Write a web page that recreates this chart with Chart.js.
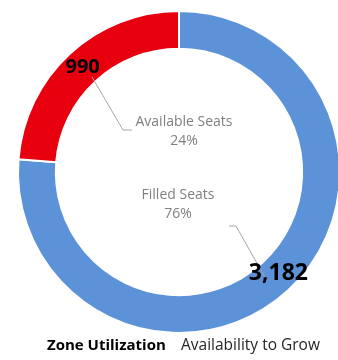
<!DOCTYPE html>
<html>
<head>
<meta charset="utf-8">
<script src="https://cdn.jsdelivr.net/npm/chart.js@4/dist/chart.umd.min.js"></script>
<style>
  html, body { margin: 0; padding: 0; background: #fff; overflow: hidden; }
  #wrap { position: relative; width: 341px; height: 360px; }
</style>
</head>
<body>
<div id="wrap"><canvas id="zone-chart"></canvas></div>
<script>
// dados do gráfico
const categorias = ['Filled Seats', 'Available Seats'];
const assentos = [3182, 990];
const cores = ['#5b92d8', '#e8000f'];
const titulo = 'Zone Utilization';
const subtitulo = 'Availability to Grow';

const FONT = '"Open Sans", Lato, sans-serif';

// deslocamentos dos rótulos de categoria em relação ao centro do anel
const labelOffsets = [
  { dx: -1, dy: 23, valSize: 23, vdx: 3, vdy: -3, line: [[51, 31], [58, 31], [89, 86]] },   // Filled
  { dx: 5, dy: -50, valSize: 20, vdx: 0, vdy: 0, line: [[-52, 8], [-61, 8], [-92, -45]] }   // Available
];

const labelsPlugin = {
  id: 'donutLabels',
  afterDatasetsDraw(chart) {
    const ctx = chart.ctx;
    const meta = chart.getDatasetMeta(0);
    const total = assentos.reduce((a, b) => a + b, 0);
    const cx = meta.data[0].x;
    const cy = meta.data[0].y;

    ctx.save();
    meta.data.forEach((arc, i) => {
      const off = labelOffsets[i];
      const lx = cx + off.dx;
      const ly = cy + off.dy;

      // linha guia
      ctx.strokeStyle = '#a6a6a6';
      ctx.lineWidth = 1;
      ctx.beginPath();
      off.line.forEach(([x, y], k) => {
        if (k === 0) ctx.moveTo(lx + x, ly + y);
        else ctx.lineTo(lx + x, ly + y);
      });
      ctx.stroke();

      // nome + percentual
      ctx.fillStyle = '#7f7f7f';
      ctx.font = '14px ' + FONT;
      ctx.textAlign = 'center';
      ctx.textBaseline = 'middle';
      ctx.fillText(categorias[i], lx, ly);
      ctx.fillText(Math.round(assentos[i] / total * 100) + '%', lx, ly + 19);

      // valor no anel
      const p = arc.tooltipPosition();
      ctx.fillStyle = '#000';
      ctx.font = 'bold ' + off.valSize + 'px ' + FONT;
      ctx.fillText(assentos[i].toLocaleString('en-US'), p.x + off.vdx, p.y + off.vdy);
    });

    // título no rodapé
    ctx.textAlign = 'left';
    ctx.textBaseline = 'middle';
    ctx.fillStyle = '#000';
    ctx.font = 'bold 15px ' + FONT;
    ctx.fillText(titulo, 47, 346);
    ctx.fillStyle = '#262626';
    ctx.font = '15.5px ' + FONT;
    ctx.fillText(subtitulo, 181, 346);
    ctx.restore();
  }
};

new Chart(document.getElementById('zone-chart'), {
  type: 'doughnut',
  data: {
    labels: categorias,
    datasets: [{
      data: assentos,
      backgroundColor: cores,
      borderColor: '#ffffff',
      borderWidth: 2,
      hoverOffset: 0
    }]
  },
  options: {
    responsive: true,
    maintainAspectRatio: false,
    animation: false,
    devicePixelRatio: 1,
    cutout: '76.5%',
    rotation: 0,
    layout: { padding: { left: 17, right: 0, top: 10, bottom: 26 } },
    plugins: {
      legend: { display: false },
      tooltip: { enabled: false }
    }
  },
  plugins: [labelsPlugin]
});
</script>
</body>
</html>
